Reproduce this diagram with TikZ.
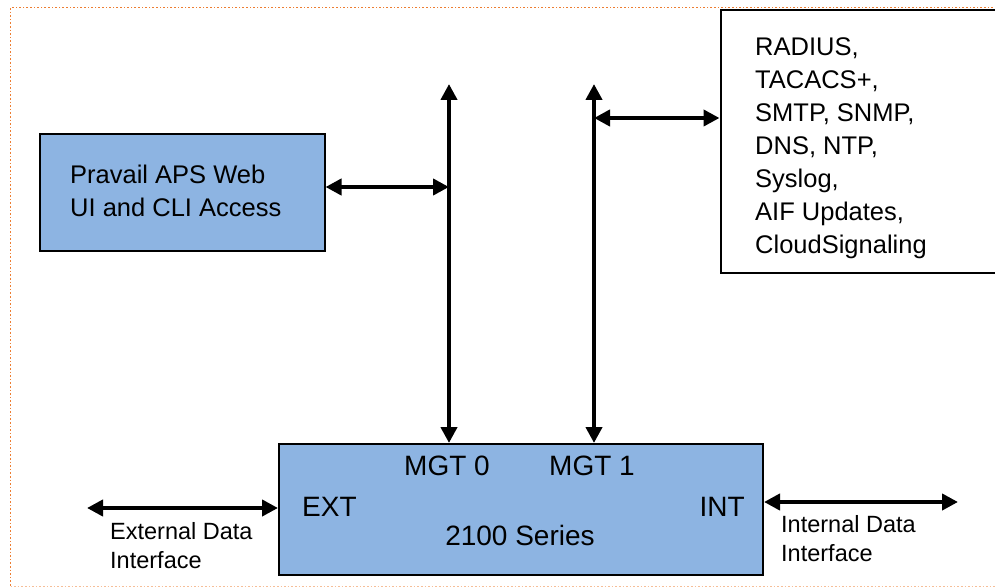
\documentclass[tikz,border=0pt]{standalone}
\usepackage{fontspec}
\setmainfont{Liberation Sans}
\usetikzlibrary{arrows.meta}
\definecolor{boxblue}{RGB}{141,180,226}
\definecolor{dotorange}{RGB}{237,125,49}
\begin{document}
\begin{tikzpicture}[x=1pt,y=-1pt,
  bluebox/.style={draw=black,line width=2pt,fill=boxblue,inner sep=0pt},
  whitebox/.style={draw=black,line width=2pt,fill=white,inner sep=0pt},
  conn/.style={line width=4.6pt,{Triangle[length=16pt,width=16pt]}-{Triangle[length=16pt,width=16pt]}},
  boxtext/.style={font=\fontsize{25.5}{33}\selectfont,align=left,inner sep=0pt},
  bigtext/.style={font=\fontsize{28}{32}\selectfont,inner sep=0pt},
  smalltext/.style={font=\fontsize{23.5}{29}\selectfont,align=left,inner sep=0pt}]
\useasboundingbox (0,0) rectangle (995,588);
% outer dotted frame
\draw[dotorange,line width=1.6pt,dash pattern=on 1.6pt off 2pt] (1000,7.5) -- (10.5,7.5) -- (10.5,586.5);
\draw[dotorange!50,line width=1.4pt,dash pattern=on 1.6pt off 2pt] (10.5,586.5) -- (1000,586.5);
% boxes
\node[bluebox,minimum width=285pt,minimum height=117pt,anchor=north west] (pravail) at (38.5,133) {};
\node[boxtext,anchor=west] at (70,191) {Pravail APS Web\\UI and CLI Access};
\node[whitebox,minimum width=300pt,minimum height=263pt,anchor=north west] (services) at (719.5,9) {};
\node[boxtext,anchor=north west] (servtext) at (755,37) {RADIUS,\\TACACS+,\\SMTP, SNMP,\\DNS, NTP,\\Syslog,\\AIF Updates,\\CloudSignaling};
\node[bluebox,minimum width=484pt,minimum height=131pt,anchor=north west] (series) at (278,443) {};
\node[bigtext] (mgt0) at (447,466) {MGT 0};
\node[bigtext] (mgt1) at (592,466) {MGT 1};
\node[bigtext,anchor=west] (ext) at (302,507) {EXT};
\node[bigtext,anchor=east] (int) at (745,507) {INT};
\node[bigtext] (name) at (520,535) {2100 Series};
\node[smalltext,anchor=north west] (extlbl) at (110,522) {External Data\\Interface};
\node[smalltext,anchor=north west] (intlbl) at (781,515) {Internal Data\\Interface};
% connector coordinates
\coordinate (m0top) at (449,84);
\coordinate (m1top) at (594,84);
\coordinate (m0bot) at (449,443);
\coordinate (m1bot) at (594,443);
\coordinate (m0mid) at (449,187);
\coordinate (m1mid) at (594,118);
\coordinate (extfree) at (87,508);
\coordinate (intfree) at (958,502);
% connectors
\draw[conn] (m0bot) -- (m0top);
\draw[conn] (m1bot) -- (m1top);
\draw[conn] (pravail.east |- m0mid) -- (m0mid);
\draw[conn] (m1mid) -- (services.west |- m1mid);
\draw[conn] (extfree) -- (series.west |- extfree);
\draw[conn] (series.east |- intfree) -- (intfree);
\end{tikzpicture}
\end{document}
